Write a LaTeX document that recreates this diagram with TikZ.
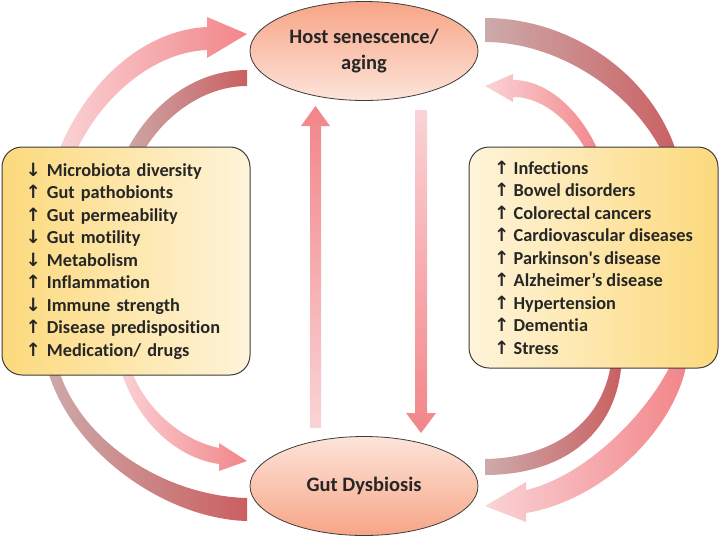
\documentclass[tikz,border=0pt]{standalone}
\usepackage{fontspec}
\setmainfont{Carlito}[Ligatures = NoCommon]
\newfontfamily\arrowfont{DejaVu Sans}
\usepackage{xcolor}
\usepackage{tikz}
\usetikzlibrary{shapes.geometric}
\pgfdeclarelayer{bg}
\pgfsetlayers{bg,main}

\definecolor{goldbox}{HTML}{FCD97C}
\definecolor{creambox}{HTML}{FEF4DA}
\definecolor{salmondark}{HTML}{F7A586}
\definecolor{salmonlight}{HTML}{FDE4DA}
\definecolor{pinklight}{HTML}{FAD3D6}
\definecolor{pinkdark}{HTML}{F28589}
\definecolor{roselight}{HTML}{CDAAAA}
\definecolor{rosedark}{HTML}{CA5F61}
\definecolor{outline}{HTML}{3C3C3C}
\definecolor{textdark}{HTML}{262626}

\newcommand{\upar}{{\arrowfont ↑}\ }
\newcommand{\dnar}{{\arrowfont ↓}\ }

\begin{document}
\begin{tikzpicture}[
				x = 1pt, y = -1pt,
				every node/.style = {text = textdark},
				ellip/.style = {ellipse, draw = outline, line width = 0.8pt, minimum width = 228pt, minimum height = 99pt, inner sep = 0pt, align = center, font = \fontsize{20.5}{26}\selectfont\bfseries},
				listbox/.style = {rectangle, rounded corners = 20pt, draw = outline, line width = 1pt, inner ysep = 0pt, align = left, font = \fontsize{18.3}{22.5}\selectfont\bfseries},
				pinkarc/.style = {left color = pinklight, right color = pinkdark},
				rosearc/.style = {left color = roselight, right color = rosedark}
				]
				\useasboundingbox (0,0) rectangle (719,538);
				
				\node [ellip, top color = salmondark, bottom color = salmonlight] (host) at (364,51) {Host senescence/\\aging};
				\node [ellip, top color = salmonlight, bottom color = salmondark] (gut) at (364,486) {Gut Dysbiosis};
				
				\node [listbox, text width = 201pt, inner xsep = 23.5pt, left color = goldbox, right color = creambox, minimum height = 228pt] (factors) at (126,261) {\dnar Microbiota diversity\\ \upar Gut pathobionts\\ \upar Gut permeability\\ \dnar Gut motility\\ \dnar Metabolism\\ \upar Inflammation\\ \dnar Immune strength\\ \upar Disease predisposition\\ \upar Medication/ drugs};
				\node [listbox, minimum width = 249pt, left color = creambox, right color = goldbox, minimum height = 221pt] (diseases) at (593.5,257.5) {\upar Infections\\ \upar Bowel disorders\\ \upar Colorectal cancers\\ \upar Cardiovascular diseases\\ \upar Parkinson\textquotesingle s disease\\ \upar Alzheimer’s disease\\ \upar Hypertension\\ \upar Dementia\\ \upar Stress};
				
				\begin{pgfonlayer}{bg}
					% left side
					\shade [pinkarc] (55,160) .. controls (85,80) and (145,30) .. (207,27) -- (207,17) -- (247,34) -- (207,58) -- (207,50) .. controls (155,52) and (100,95) .. (72,160) -- cycle;
					\shade [rosearc] (247,70) .. controls (195,70) and (145,105) .. (120,165) -- (136,165) .. controls (160,115) and (205,86) .. (247,86) -- cycle;
					\shade [rosearc] (45,360) .. controls (65,450) and (165,519) .. (247,521) -- (247,498) .. controls (165,496) and (75,440) .. (56,360) -- cycle;
					\shade [pinkarc] (128,360) .. controls (140,405) and (180,440) .. (219,448) -- (219,443) -- (247,461) -- (219,471) -- (219,464) .. controls (175,458) and (132,418) .. (118,360) -- cycle;
					% right side
					\shade [rosearc] (485,18) .. controls (575,18) and (660,80) .. (680,165) -- (668,165) .. controls (640,95) and (560,42) .. (485,42) -- cycle;
					\shade [pinkarc] (602,160) .. controls (585,115) and (550,80) .. (513,80) -- (513,74) -- (485,86) -- (513,102) -- (513,97) .. controls (545,97) and (575,125) .. (591,160) -- cycle;
					\shade [rosearc] (485,459) .. controls (550,458) and (606,425) .. (612,355) -- (622,355) .. controls (620,432) and (565,475) .. (485,475) -- cycle;
					\shade [pinkarc] (675,355) .. controls (655,405) and (590,475) .. (526,490) -- (526,482) -- (485,506) -- (526,522) -- (526,513) .. controls (605,500) and (680,425) .. (688,355) -- cycle;
					% middle
					\shade [top color = pinkdark, bottom color = pinklight] (310,428) -- (310,126) -- (301,126) -- (315.5,106) -- (330,126) -- (321,126) -- (321,428) -- cycle;
					\shade [top color = pinklight, bottom color = pinkdark] (415,110) -- (415,413) -- (406,413) -- (421,433) -- (436,413) -- (427,413) -- (427,110) -- cycle;
				\end{pgfonlayer}
			\end{tikzpicture}
\end{document}
